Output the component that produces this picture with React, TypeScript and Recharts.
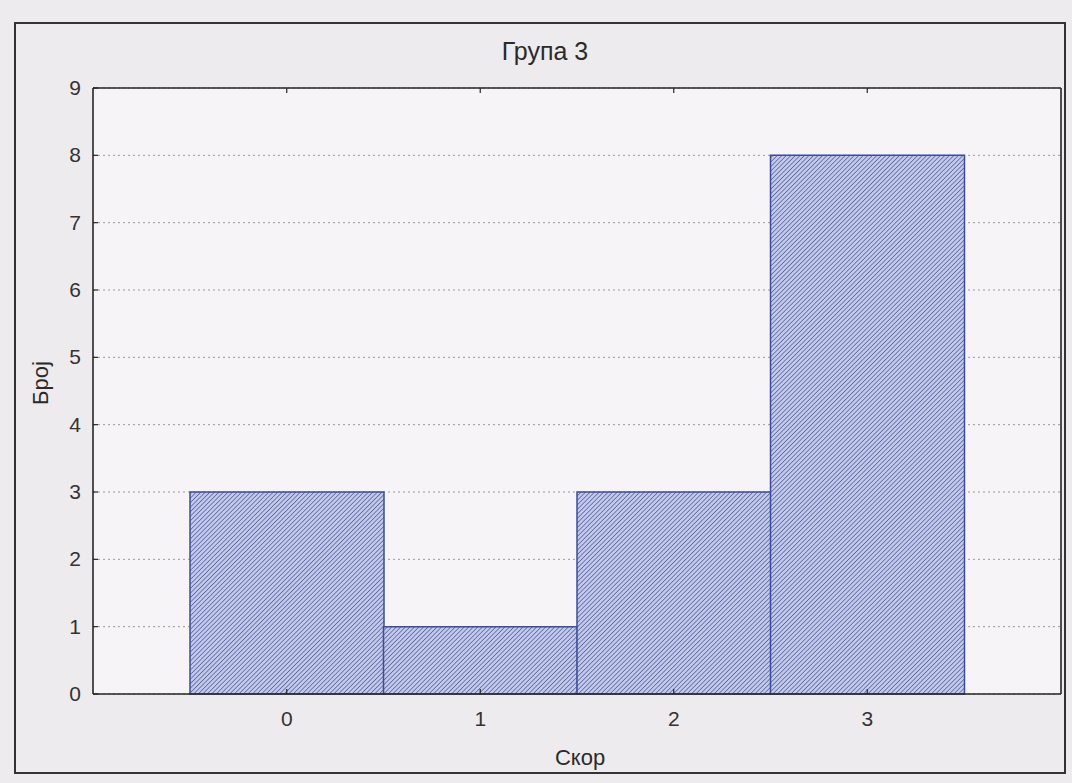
import React from 'react';
import { ComposedChart, Bar, XAxis, YAxis, CartesianGrid } from 'recharts';

const scores = ['0', '1', '2', '3'];
const counts = [3, 1, 3, 8];
const yTicks = [0, 1, 2, 3, 4, 5, 6, 7, 8, 9];
const title = 'Група 3';
const xLabel = 'Скор';
const yLabel = 'Број';

const data = scores.map((s, i) => ({ score: s, count: counts[i] }));

const FONT = '"Liberation Sans", Arial, sans-serif';
const AXIS = '#262626';

const BottomTick = (props: any) => {
  const { x, y, payload } = props;
  return (
    <g>
      <line x1={x} y1={y} x2={x} y2={y - 5} stroke={AXIS} strokeWidth={1.2} />
      <text x={x} y={y + 32} textAnchor="middle" fontSize={21} fill="#333" fontFamily={FONT}>
        {payload.value}
      </text>
    </g>
  );
};

const TopTick = (props: any) => {
  const { x, y } = props;
  return <line x1={x} y1={y} x2={x} y2={y + 5} stroke={AXIS} strokeWidth={1.2} />;
};

const LeftTick = (props: any) => {
  const { x, y, payload } = props;
  return (
    <g>
      <line x1={x} y1={y} x2={x + 5} y2={y} stroke={AXIS} strokeWidth={1.2} />
      <text x={x - 12} y={y + 7} textAnchor="end" fontSize={21} fill="#333" fontFamily={FONT}>
        {payload.value}
      </text>
    </g>
  );
};

const RightTick = (props: any) => {
  const { x, y } = props;
  return <line x1={x} y1={y} x2={x - 5} y2={y} stroke={AXIS} strokeWidth={1.2} />;
};

export default function App() {
  return (
    <div
      style={{
        position: 'absolute',
        left: 0,
        top: 0,
        width: 1072,
        height: 783,
        background: '#eeebee',
        overflow: 'hidden',
        fontFamily: FONT,
      }}
    >
      <div
        style={{
          position: 'absolute',
          left: 14,
          top: 22,
          width: 1052,
          height: 752,
          border: '2px solid #333',
          boxSizing: 'border-box',
        }}
      />
      <div
        style={{
          position: 'absolute',
          left: 545,
          top: 51,
          transform: 'translate(-50%, -50%)',
          fontSize: 25,
          color: '#2a2a2a',
          whiteSpace: 'nowrap',
        }}
      >
        {title}
      </div>
      <div
        style={{
          position: 'absolute',
          left: 41,
          top: 383,
          transform: 'translate(-50%, -50%) rotate(-90deg)',
          fontSize: 22,
          color: '#2a2a2a',
          whiteSpace: 'nowrap',
        }}
      >
        {yLabel}
      </div>
      <div
        style={{
          position: 'absolute',
          left: 580,
          top: 758,
          transform: 'translate(-50%, -50%)',
          fontSize: 22,
          color: '#2a2a2a',
          whiteSpace: 'nowrap',
        }}
      >
        {xLabel}
      </div>
      <div style={{ position: 'absolute', left: 0, top: 0 }}>
        <ComposedChart
          width={1072}
          height={783}
          data={data}
          barCategoryGap={0}
          barGap={0}
          margin={{ top: 78, right: 1, bottom: 49, left: 33 }}
        >
          <defs>
            <pattern
              id="hatch"
              width="3.2"
              height="3.2"
              patternUnits="userSpaceOnUse"
              patternTransform="rotate(45)"
            >
              <rect width="3.2" height="3.2" fill="#c3c9e6" />
              <line x1="0" y1="0" x2="0" y2="3.2" stroke="#5262a8" strokeWidth="1.5" />
            </pattern>
          </defs>
          <CartesianGrid
            vertical={false}
            stroke="#9a9a9a"
            strokeDasharray="2 3"
            fill="#f7f4f8"
            fillOpacity={1}
          />
          <XAxis
            dataKey="score"
            type="category"
            height={40}
            padding={{ left: 97, right: 97 }}
            tickSize={0}
            tickMargin={0}
            tickLine={false}
            tick={<BottomTick />}
            axisLine={{ stroke: AXIS, strokeWidth: 1.6 }}
            interval={0}
          />
          <XAxis
            xAxisId="top"
            orientation="top"
            dataKey="score"
            type="category"
            height={10}
            padding={{ left: 97, right: 97 }}
            tickSize={0}
            tickMargin={0}
            tickLine={false}
            tick={<TopTick />}
            axisLine={{ stroke: AXIS, strokeWidth: 1.6 }}
            interval={0}
          />
          <YAxis
            width={60}
            domain={[0, 9]}
            ticks={yTicks}
            interval={0}
            tickSize={0}
            tickMargin={0}
            tickLine={false}
            tick={<LeftTick />}
            axisLine={{ stroke: AXIS, strokeWidth: 1.6 }}
          />
          <YAxis
            yAxisId="right"
            orientation="right"
            width={10}
            domain={[0, 9]}
            ticks={yTicks}
            interval={0}
            tickSize={0}
            tickMargin={0}
            tickLine={false}
            tick={<RightTick />}
            axisLine={{ stroke: AXIS, strokeWidth: 1.6 }}
          />
          <Bar
            dataKey="count"
            fill="url(#hatch)"
            stroke="#3c4b9c"
            strokeWidth={1.5}
            isAnimationActive={false}
          />
        </ComposedChart>
      </div>
    </div>
  );
}
